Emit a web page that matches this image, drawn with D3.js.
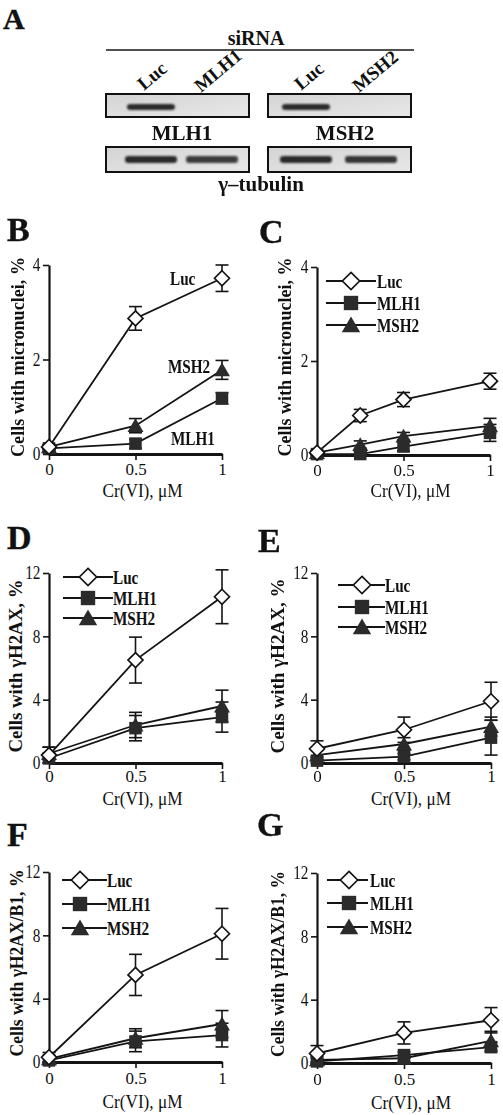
<!DOCTYPE html>
<html><head><meta charset="utf-8">
<script src="https://cdn.jsdelivr.net/npm/d3@7"></script>
<style>
body{margin:0;background:#fff}
svg{display:block}
text{font-family:"Liberation Serif","Times New Roman",serif;fill:#111}
</style>
</head><body>
<svg id="fig" width="503" height="1115"></svg>
<script>
// ---------- DATA ----------
const seriesNames = ["Luc", "MLH1", "MSH2"];
const doseX = [0, 0.5, 1];
const doseXC = [0, 0.25, 0.5, 1];
const xTicks = [0, 0.5, 1];
const yTicksMN = [0, 2, 4];
const yTicksH2AX = [0, 4, 8, 12];

// Panel B - micronuclei
const bLuc = [0.15, 2.87, 3.72], bLucErr = [0.05, 0.25, 0.28];
const bMLH1 = [0.12, 0.22, 1.18], bMLH1Err = [0.05, 0.1, 0.12];
const bMSH2 = [0.15, 0.6, 1.78], bMSH2Err = [0.05, 0.15, 0.2];
// Panel C - micronuclei
const cLuc = [0.05, 0.84, 1.18, 1.57], cLucErr = [0.05, 0.13, 0.15, 0.17];
const cMLH1 = [0.02, 0.02, 0.18, 0.47], cMLH1Err = [0.03, 0.05, 0.1, 0.18];
const cMSH2 = [0.05, 0.22, 0.4, 0.62], cMSH2Err = [0.03, 0.08, 0.08, 0.16];
// Panel D - gammaH2AX
const dLuc = [0.5, 6.5, 10.5], dLucErr = [0.5, 1.45, 1.7];
const dMLH1 = [0.3, 2.2, 2.9], dMLH1Err = [0.3, 0.8, 0.95];
const dMSH2 = [0.6, 2.4, 3.6], dMSH2Err = [0.4, 0.8, 1.0];
// Panel E - gammaH2AX
const eLuc = [0.9, 2.1, 3.9], eLucErr = [0.5, 0.8, 1.2];
const eMLH1 = [0.15, 0.4, 1.6], eMLH1Err = [0.2, 0.2, 1.1];
const eMSH2 = [0.5, 1.2, 2.3], eMSH2Err = [0.3, 0.4, 0.6];
// Panel F - gammaH2AX/B1
const fLuc = [0.3, 5.5, 8.1], fLucErr = [0.3, 1.3, 1.6];
const fMLH1 = [0.1, 1.3, 1.7], fMLH1Err = [0.2, 0.65, 0.75];
const fMSH2 = [0.2, 1.5, 2.4], fMSH2Err = [0.2, 0.6, 0.85];
// Panel G - gammaH2AX/B1
const gLuc = [0.6, 1.9, 2.7], gLucErr = [0.5, 0.7, 0.8];
const gMLH1 = [0.1, 0.5, 1.0], gMLH1Err = [0.2, 0.2, 0.3];
const gMSH2 = [0.2, 0.3, 1.4], gMSH2Err = [0.2, 0.2, 0.6];

// Panel A - western blot
const blotLaneLabels = ["Luc", "MLH1", "Luc", "MSH2"];
const blotTargetNames = ["MLH1", "MSH2"];
const blotTargetSignal = [1, 0, 1, 0];
const blotTubulinSignal = [1, 0.9, 1, 0.95];

// ---------- DRAWING ----------
const svg = d3.select("#fig");
const INK = "#141414", FILL = "#2b2b2b";
const SERIF = "'Liberation Serif','Times New Roman',serif";

const defs = svg.append("defs");
defs.append("filter").attr("id", "blur").attr("x", "-20%").attr("y", "-100%").attr("width", "140%").attr("height", "300%")
  .append("feGaussianBlur").attr("stdDeviation", 1.3);
const grad = defs.append("linearGradient").attr("id", "mem").attr("x1", 0).attr("x2", 1).attr("y1", 0).attr("y2", 1);
grad.append("stop").attr("offset", "0%").attr("stop-color", "#d4d4d4");
grad.append("stop").attr("offset", "100%").attr("stop-color", "#e8e8e8");

function panelLetter(t, x, y, size) {
  svg.append("text").attr("x", x).attr("y", y).attr("font-size", size || 34)
    .attr("font-weight", "bold").attr("stroke", "#111").attr("stroke-width", 0.4).text(t);
}

// ----- Panel A -----
panelLetter("A", 3, 29, 30);
svg.append("text").attr("x", 256).attr("y", 45).attr("text-anchor", "middle")
  .attr("font-size", 20).attr("font-weight", "bold").text("siRNA");
svg.append("line").attr("x1", 106).attr("x2", 414).attr("y1", 50).attr("y2", 50)
  .attr("stroke", INK).attr("stroke-width", 1.6);

const laneCenters = [151, 212, 306, 371];
const laneLabelPos = [[144, 91], [201, 93], [301, 91], [359, 93]];
blotLaneLabels.forEach((l, i) => {
  svg.append("text")
    .attr("transform", `translate(${laneLabelPos[i][0]},${laneLabelPos[i][1]}) rotate(-40)`)
    .attr("font-size", 19).attr("font-weight", "bold").text(l);
});

const boxes = [[106, 249], [268, 411]];
const rowY = [[94, 117], [147, 172]];
rowY.forEach(r => boxes.forEach(b => {
  svg.append("rect").attr("x", b[0]).attr("y", r[0]).attr("width", b[1] - b[0]).attr("height", r[1] - r[0])
    .attr("fill", "url(#mem)").attr("stroke", "#111").attr("stroke-width", 2);
}));
const bandG = svg.append("g").attr("filter", "url(#blur)");
bandG.selectAll("rect.t").data(blotTargetSignal).join("rect")
  .attr("x", (d, i) => laneCenters[i] - 24).attr("width", 48)
  .attr("y", 104).attr("height", 6).attr("rx", 3)
  .attr("fill", "#2a2a2a").attr("opacity", d => d);
bandG.selectAll("rect.u").data(blotTubulinSignal).join("rect")
  .attr("x", (d, i) => laneCenters[i] - 26).attr("width", 52)
  .attr("y", 156).attr("height", 7).attr("rx", 3)
  .attr("fill", "#2a2a2a").attr("opacity", d => d);

const targetLabelX = [182, 345];
blotTargetNames.forEach((n, i) => {
  svg.append("text").attr("x", targetLabelX[i]).attr("y", 140).attr("text-anchor", "middle")
    .attr("font-size", 21).attr("font-weight", "bold").text(n);
});
svg.append("text").attr("x", 261).attr("y", 191).attr("text-anchor", "middle")
  .attr("font-size", 21).attr("font-weight", "bold").text("γ–tubulin");

// ----- markers -----
function drawMarker(g, name, cx, cy, big) {
  const k = big ? 1.15 : 1;
  if (name === "Luc") {
    const r = 7.5 * k;
    g.append("path").attr("d", `M${cx},${cy - r}L${cx + r},${cy}L${cx},${cy + r}L${cx - r},${cy}Z`)
      .attr("fill", "#fff").attr("stroke", INK).attr("stroke-width", 1.7);
  } else if (name === "MLH1") {
    const s = 12.5 * k;
    g.append("rect").attr("x", cx - s / 2).attr("y", cy - s / 2).attr("width", s).attr("height", s)
      .attr("fill", FILL);
  } else {
    const w = 8 * k, h = 7.5 * k;
    g.append("path").attr("d", `M${cx},${cy - h}L${cx + w},${cy + h * 0.85}L${cx - w},${cy + h * 0.85}Z`)
      .attr("fill", FILL);
  }
}

function condensedText(g, x, y, str, size) {
  g.append("text").attr("transform", `translate(${x},${y}) scale(0.8,1)`)
    .attr("font-size", size || 19).attr("font-weight", "bold").text(str);
}

// ----- panels -----
const panels = [
  { id: "B", lx: 7, ly: 241, x0: 49, x1: 222, yBase: 454, yTop: 265, yMax: 4, yTicks: yTicksMN, doses: doseX,
    series: { Luc: [bLuc, bLucErr], MLH1: [bMLH1, bMLH1Err], MSH2: [bMSH2, bMSH2Err] },
    ytitle: "Cells with micronuclei, %", ytX: 24, ytY: 357, ytLen: 200, xtY: 497, xlabY: 474,
    notes: [["Luc", 170, 285], ["MSH2", 168, 373], ["MLH1", 171, 445]] },
  { id: "C", lx: 259, ly: 243, x0: 317, x1: 490, yBase: 455, yTop: 267, yMax: 4, yTicks: yTicksMN, doses: doseXC,
    series: { Luc: [cLuc, cLucErr], MLH1: [cMLH1, cMLH1Err], MSH2: [cMSH2, cMSH2Err] },
    ytitle: "Cells with micronuclei, %", ytX: 291, ytY: 357, ytLen: 199, xtY: 497, xlabY: 475,
    legend: { x1: 326, x2: 376, m: 351, tx: 377, rows: [281, 303, 325] } },
  { id: "D", lx: 7, ly: 549, x0: 49, x1: 222, yBase: 763, yTop: 573, yMax: 12, yTicks: yTicksH2AX, doses: doseX,
    series: { Luc: [dLuc, dLucErr], MLH1: [dMLH1, dMLH1Err], MSH2: [dMSH2, dMSH2Err] },
    ytitle: "Cells with γH2AX, %", ytX: 22, ytY: 666, ytLen: 173, xtY: 805, xlabY: 781,
    legend: { x1: 63, x2: 113, m: 88, tx: 113, rows: [577, 598, 618] } },
  { id: "E", lx: 258, ly: 552, x0: 317, x1: 491, yBase: 763, yTop: 573, yMax: 12, yTicks: yTicksH2AX, doses: doseX,
    series: { Luc: [eLuc, eLucErr], MLH1: [eMLH1, eMLH1Err], MSH2: [eMSH2, eMSH2Err] },
    ytitle: "Cells with γH2AX, %", ytX: 284, ytY: 666, ytLen: 175, xtY: 805, xlabY: 781,
    legend: { x1: 338, x2: 385, m: 362, tx: 385, rows: [585, 607, 627] } },
  { id: "F", lx: 7, ly: 846, x0: 49, x1: 222, yBase: 1062, yTop: 872, yMax: 12, yTicks: yTicksH2AX, doses: doseX,
    series: { Luc: [fLuc, fLucErr], MLH1: [fMLH1, fMLH1Err], MSH2: [fMSH2, fMSH2Err] },
    ytitle: "Cells with γH2AX/B1, %", ytX: 23, ytY: 963, ytLen: 187, xtY: 1108, xlabY: 1083,
    legend: { x1: 62, x2: 107, m: 80, tx: 107, rows: [880, 904, 928] } },
  { id: "G", lx: 257, ly: 836, x0: 317, x1: 491, yBase: 1063, yTop: 873, yMax: 12, yTicks: yTicksH2AX, doses: doseX,
    series: { Luc: [gLuc, gLucErr], MLH1: [gMLH1, gMLH1Err], MSH2: [gMSH2, gMSH2Err] },
    ytitle: "Cells with γH2AX/B1, %", ytX: 284, ytY: 964, ytLen: 186, xtY: 1109, xlabY: 1084,
    legend: { x1: 327, x2: 368, m: 349, tx: 370, rows: [880, 903, 927] } }
];

function drawPanel(p) {
  panelLetter(p.id, p.lx, p.ly, 34);
  const x = d3.scaleLinear().domain([0, 1]).range([p.x0, p.x1]);
  const y = d3.scaleLinear().domain([0, p.yMax]).range([p.yBase, p.yTop]);
  const g = svg.append("g");

  const ya = g.append("g").attr("transform", `translate(${p.x0},0)`)
    .call(d3.axisLeft(y).tickValues(p.yTicks).tickSize(6).tickPadding(1).tickSizeOuter(0).tickFormat(d3.format("d")));
  ya.attr("font-family", SERIF);
  ya.select(".domain").attr("stroke", INK).attr("stroke-width", 2.2);
  ya.selectAll(".tick line").attr("stroke", INK).attr("stroke-width", 1.6);
  ya.selectAll(".tick text").attr("font-size", 18).attr("fill", "#111")
    .attr("transform", "scale(0.85,1)").attr("x", -8.5 / 0.85);

  const xa = g.append("g").attr("transform", `translate(0,${p.yBase})`)
    .call(d3.axisBottom(x).tickValues(xTicks).tickSize(6).tickPadding(3).tickSizeOuter(0).tickFormat(d => d === 0.5 ? "0.5" : d3.format("d")(d)));
  xa.attr("font-family", SERIF);
  xa.select(".domain").attr("stroke", INK).attr("stroke-width", 3);
  xa.selectAll(".tick line").attr("stroke", INK).attr("stroke-width", 1.6);
  xa.selectAll(".tick text").attr("font-size", 17).attr("fill", "#111")
    .attr("dy", null).attr("y", p.xlabY - p.yBase + 1);

  g.append("text").attr("x", (p.x0 + p.x1) / 2 + 7).attr("y", p.xtY).attr("text-anchor", "middle")
    .attr("font-size", 18).attr("textLength", 80).attr("lengthAdjust", "spacingAndGlyphs").text("Cr(VI), μM");

  g.append("text").attr("transform", `translate(${p.ytX},${p.ytY}) rotate(-90)`)
    .attr("text-anchor", "middle").attr("font-size", 19).attr("font-weight", "bold")
    .attr("textLength", p.ytLen).attr("lengthAdjust", "spacingAndGlyphs").text(p.ytitle);

  const line = d3.line().x(d => x(d[0])).y(d => y(d[1]));
  const order = ["MSH2", "MLH1", "Luc"];
  order.forEach(name => {
    const [vals] = p.series[name];
    const pts = p.doses.map((d, i) => [d, vals[i]]);
    g.append("path").attr("d", line(pts)).attr("fill", "none").attr("stroke", INK).attr("stroke-width", 1.8);
  });
  order.forEach(name => {
    const [vals, errs] = p.series[name];
    p.doses.forEach((d, i) => {
      const cx = x(d), t = y(vals[i] + errs[i]), b = y(Math.max(0, vals[i] - errs[i]));
      g.append("line").attr("x1", cx).attr("x2", cx).attr("y1", t).attr("y2", b).attr("stroke", INK).attr("stroke-width", 1.6);
      [t, b].forEach(yy => g.append("line").attr("x1", cx - 6.5).attr("x2", cx + 6.5).attr("y1", yy).attr("y2", yy)
        .attr("stroke", INK).attr("stroke-width", 1.6));
    });
  });
  order.forEach(name => {
    const [vals] = p.series[name];
    p.doses.forEach((d, i) => drawMarker(g, name, x(d), y(vals[i]), false));
  });

  if (p.notes) {
    p.notes.forEach(n => condensedText(g, n[1], n[2], n[0], 19));
  }
  if (p.legend) {
    const L = p.legend;
    seriesNames.forEach((name, i) => {
      const ry = L.rows[i];
      g.append("line").attr("x1", L.x1).attr("x2", L.x2).attr("y1", ry).attr("y2", ry)
        .attr("stroke", INK).attr("stroke-width", 2.2);
      drawMarker(g, name, L.m, ry, true);
      condensedText(g, L.tx, ry + 6.5, name, 19);
    });
  }
}
panels.forEach(drawPanel);
</script>
</body></html>
